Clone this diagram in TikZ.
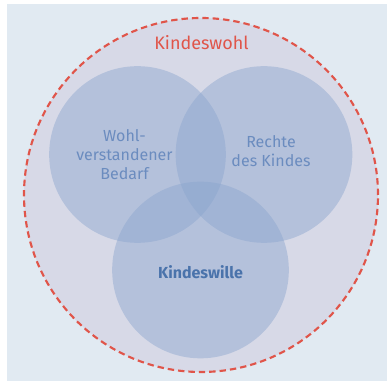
\documentclass[tikz,border=0pt]{standalone}
\usepackage{fontspec}
\setmainfont{Fira Sans}
\usetikzlibrary{positioning}
\usepackage{xcolor}

\definecolor{paleblue}{HTML}{E1EAF2}
\definecolor{lavender}{HTML}{D7D9E7}
\definecolor{circblue}{HTML}{8AA5CE}
\definecolor{labelblue}{HTML}{6B8CBF}
\definecolor{darkblue}{HTML}{4A73AB}
\definecolor{wohlred}{HTML}{E0554A}

\tikzset{
  ring/.style={circle,fill=circblue,fill opacity=0.45,inner sep=0pt,minimum size=132.5pt},
  lbl/.style={text=labelblue,align=center,font=\fontsize{12}{14.25}\selectfont}
}

\begin{document}
\begin{tikzpicture}[x=0.75pt,y=-0.75pt]
  \useasboundingbox (0,0) rectangle (387,381);
  \fill[paleblue] (7,4) rectangle (387,381);
  % outer circle, dashed red border
  \node[circle,fill=lavender,draw=wohlred,line width=1.6pt,dash pattern=on 4.8pt off 3pt,inner sep=0pt,minimum size=265.5pt] (wohl) at (201,195) {};
  \node[text=wohlred,font=\fontsize{13.5}{16}\selectfont] (wohltxt) at (201.5,43) {Kindeswohl};
  % the three overlapping circles
  \node[ring] (bedarf) at (137.5,154.5) {};
  \node[ring] (rechte) at (264,154.5) {};
  \node[ring] (wille) at (200.5,270) {};
  \node[lbl] (bedarftxt) at (124.5,155) {Wohl-\\verstandener\\Bedarf};
  \node[lbl] (rechtetxt) at (271,151) {Rechte\\des Kindes};
  \node[lbl,text=darkblue,font=\fontsize{12}{14.25}\selectfont\bfseries] (willetxt) at (200.5,272) {Kindeswille};
\end{tikzpicture}
\end{document}
